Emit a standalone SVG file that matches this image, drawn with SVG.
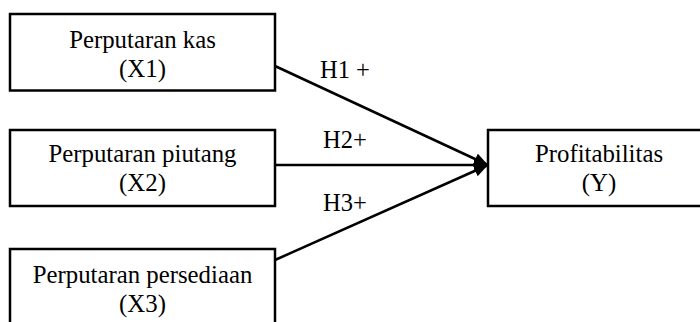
<svg xmlns="http://www.w3.org/2000/svg" width="700" height="322" viewBox="0 0 700 322">
<style>
.box{fill:#fff;stroke:#000;stroke-width:2.5}
.t{font-family:"Liberation Serif","Times New Roman",serif;font-size:24.8px;fill:#000;text-anchor:middle}
.l{font-family:"Liberation Serif","Times New Roman",serif;font-size:24.5px;fill:#000}
.c{stroke:#000;stroke-width:2.5;fill:none}
</style>
<defs>
<marker id="ah" markerUnits="userSpaceOnUse" markerWidth="16" markerHeight="14" refX="14" refY="6" orient="auto">
<path d="M0,0 L14,6 L0,12 Z" fill="#000"/>
</marker>
</defs>
<rect width="700" height="322" fill="#fff"/>
<g id="x1">
<rect class="box" x="10" y="14" width="265" height="76.5"/>
<text class="t" x="142.5" y="48">Perputaran kas</text>
<text class="t" x="142.5" y="77">(X1)</text>
</g>
<g id="x2">
<rect class="box" x="10" y="130" width="265" height="76"/>
<text class="t" x="142.5" y="162">Perputaran piutang</text>
<text class="t" x="142.5" y="191">(X2)</text>
</g>
<g id="x3">
<rect class="box" x="10" y="249" width="265" height="90"/>
<text class="t" x="142.5" y="283">Perputaran persediaan</text>
<text class="t" x="142.5" y="312">(X3)</text>
</g>
<g id="y">
<rect class="box" x="488" y="130" width="222" height="76"/>
<text class="t" x="599" y="162">Profitabilitas</text>
<text class="t" x="599" y="191">(Y)</text>
</g>
<g id="connectors">
<line class="c" x1="275" y1="66" x2="488" y2="165" marker-end="url(#ah)"/>
<line class="c" x1="275" y1="165" x2="488" y2="165" marker-end="url(#ah)"/>
<line class="c" x1="275" y1="260" x2="488" y2="165" marker-end="url(#ah)"/>
<text class="l" x="320" y="78">H1 +</text>
<text class="l" x="323" y="148">H2+</text>
<text class="l" x="323" y="211">H3+</text>
</g>
</svg>
